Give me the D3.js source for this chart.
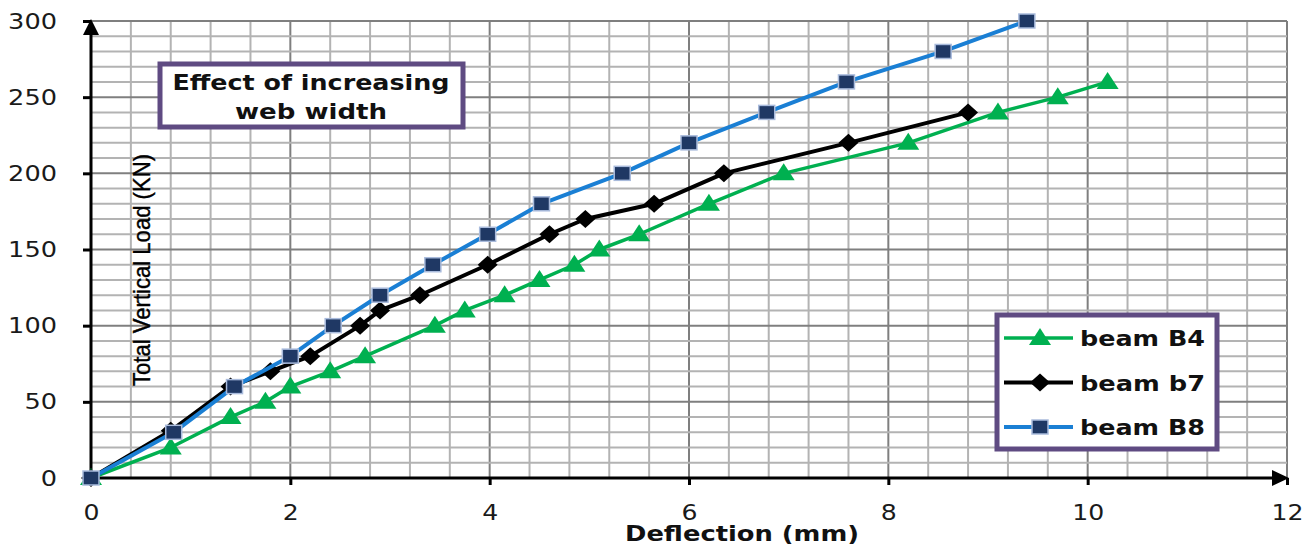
<!DOCTYPE html>
<html>
<head>
<meta charset="utf-8">
<script src="https://cdn.jsdelivr.net/npm/d3@7"></script>
<style>
  body { margin: 0; background: #fff; }
  svg { display: block; }
</style>
</head>
<body>
<svg id="chart" width="1316" height="545"></svg>
<script>
// deflection (mm) and load (kN)
const b4Defl = [0, 0.8, 1.4, 1.75, 2.0, 2.4, 2.75, 3.45, 3.75, 4.15, 4.5, 4.85, 5.1, 5.5, 6.2, 6.95, 8.2, 9.1, 9.7, 10.2];
const b4Load = [0, 20, 40, 50, 60, 70, 80, 100, 110, 120, 130, 140, 150, 160, 180, 200, 220, 240, 250, 260];

const b7Defl = [0, 0.8, 1.4, 1.8, 2.2, 2.7, 2.9, 3.3, 3.98, 4.6, 4.96, 5.65, 6.35, 7.6, 8.8];
const b7Load = [0, 31, 60, 70, 80, 100, 110, 120, 140, 160, 170, 180, 200, 220, 240];

const b8Defl = [0, 0.83, 1.44, 2.0, 2.43, 2.9, 3.43, 3.98, 4.52, 5.33, 6.0, 6.78, 7.58, 8.55, 9.39];
const b8Load = [0, 30, 60, 80, 100, 120, 140, 160, 180, 200, 220, 240, 260, 280, 300];

const xTicks = [0, 2, 4, 6, 8, 10, 12];
const yTicks = [0, 50, 100, 150, 200, 250, 300];
const seriesNames = ['beam B4', 'beam b7', 'beam B8'];
const titleLines = ['Effect of increasing', 'web width'];

const svg = d3.select('#chart');
const x = d3.scaleLinear().domain([0, 12]).range([91, 1287]);
const y = d3.scaleLinear().domain([0, 300]).range([478, 21]);

// grid: minor every 0.4 mm / 10 kN, major on the ticks
const grid = svg.append('g');
d3.range(0, 12.001, 0.4).forEach(v => {
    const major = Math.abs(v / 2 - Math.round(v / 2)) < 1e-6;
    grid.append('line')
        .attr('x1', x(v)).attr('x2', x(v)).attr('y1', y(0)).attr('y2', y(300))
        .attr('stroke', major ? '#7f7f7f' : '#b3b3b3').attr('stroke-width', 2);
});
d3.range(0, 301, 10).forEach(v => {
    const major = v % 50 === 0;
    grid.append('line')
        .attr('x1', x(0)).attr('x2', x(12)).attr('y1', y(v)).attr('y2', y(v))
        .attr('stroke', major ? '#7f7f7f' : '#b3b3b3').attr('stroke-width', 2);
});

// axes
const xAxis = svg.append('g').attr('transform', `translate(0,${y(0)})`)
    .call(d3.axisBottom(x).tickValues(xTicks).tickSize(7).tickFormat(d3.format('d')));
xAxis.select('.domain').remove();
xAxis.selectAll('.tick line').attr('stroke', '#000').attr('stroke-width', 3);
xAxis.selectAll('.tick text')
    .attr('y', 26).attr('dy', '0.71em')
    .attr('font-family', 'DejaVu Sans').attr('font-size', 22).attr('fill', '#1a1a1a')
    .attr('textLength', d => String(d).length * 16).attr('lengthAdjust', 'spacingAndGlyphs');

const yAxis = svg.append('g').attr('transform', `translate(${x(0)},0)`)
    .call(d3.axisLeft(y).tickValues(yTicks).tickSize(8));
yAxis.select('.domain').remove();
yAxis.selectAll('.tick line').attr('stroke', '#000').attr('stroke-width', 3);
yAxis.selectAll('.tick text')
    .attr('x', -34)
    .attr('font-family', 'DejaVu Sans').attr('font-size', 22).attr('fill', '#1a1a1a')
    .attr('textLength', d => String(d).length * 16.3).attr('lengthAdjust', 'spacingAndGlyphs');

svg.append('line')
    .attr('x1', x(0)).attr('x2', x(0)).attr('y1', y(0)).attr('y2', y(300) + 8)
    .attr('stroke', '#000').attr('stroke-width', 3);
svg.append('path')
    .attr('d', `M${x(0)},${y(300) - 2} l-8,16 l16,0 z`).attr('fill', '#000');
svg.append('line')
    .attr('x1', x(0)).attr('x2', x(12) - 8).attr('y1', y(0)).attr('y2', y(0))
    .attr('stroke', '#000').attr('stroke-width', 3);
svg.append('path')
    .attr('d', `M${x(12) + 2},${y(0)} l-17,-8 l0,16 z`).attr('fill', '#000');

// axis titles
svg.append('text')
    .attr('x', 742).attr('y', 541).attr('text-anchor', 'middle')
    .attr('font-family', 'DejaVu Sans').attr('font-weight', 'bold').attr('font-size', 21)
    .attr('textLength', 234).attr('lengthAdjust', 'spacingAndGlyphs').attr('fill', '#111')
    .text('Deflection (mm)');

svg.append('text')
    .attr('transform', 'translate(150,270) rotate(-90)')
    .attr('text-anchor', 'middle')
    .attr('font-family', 'Liberation Sans Narrow, Liberation Sans, sans-serif').attr('font-size', 24)
    .attr('textLength', 232).attr('lengthAdjust', 'spacingAndGlyphs').attr('fill', '#000')
    .attr('stroke', '#000').attr('stroke-width', 0.4)
    .text('Total Vertical Load (KN)');

// series
const series = [
    {defl: b4Defl, load: b4Load, line: '#00b050', width: 3.5, mark: 'tri'},
    {defl: b7Defl, load: b7Load, line: '#000000', width: 4, mark: 'dia'},
    {defl: b8Defl, load: b8Load, line: '#1a7fd4', width: 4, mark: 'sq'}
];

function drawMarker(g, kind) {
    if (kind === 'tri') {
        g.append('path').attr('d', 'M0,-10 L11,7 L-11,7 Z').attr('fill', '#00b050');
    } else if (kind === 'dia') {
        g.append('path').attr('d', 'M0,-9 L10,0 L0,9 L-10,0 Z').attr('fill', '#000');
    } else {
        g.append('rect').attr('x', -8).attr('y', -7).attr('width', 16).attr('height', 14)
            .attr('fill', '#1f3864').attr('stroke', '#a9bbdc').attr('stroke-width', 1.5);
    }
}

const lineGen = d3.line().x(d => x(d[0])).y(d => y(d[1]));
series.forEach(s => {
    const pts = s.defl.map((d, i) => [d, s.load[i]]);
    svg.append('path').datum(pts).attr('d', lineGen)
        .attr('fill', 'none').attr('stroke', s.line).attr('stroke-width', s.width)
        .attr('stroke-linejoin', 'round');
    pts.forEach(p => {
        drawMarker(svg.append('g').attr('transform', `translate(${x(p[0])},${y(p[1])})`), s.mark);
    });
});

// title box
const purple = '#5f4b82';
svg.append('rect').attr('x', 160).attr('y', 64).attr('width', 303).attr('height', 63)
    .attr('fill', '#fff').attr('stroke', purple).attr('stroke-width', 5);
titleLines.forEach((t, i) => {
    svg.append('text')
        .attr('x', 311).attr('y', 90 + i * 29).attr('text-anchor', 'middle')
        .attr('font-family', 'DejaVu Sans').attr('font-weight', 'bold').attr('font-size', 22)
        .attr('textLength', i === 0 ? 277 : 152).attr('lengthAdjust', 'spacingAndGlyphs')
        .attr('fill', '#111')
        .text(t);
});

// legend
svg.append('rect').attr('x', 997).attr('y', 315).attr('width', 220).attr('height', 134)
    .attr('fill', '#fff').attr('stroke', purple).attr('stroke-width', 5);
seriesNames.forEach((name, i) => {
    const ly = 338 + i * 44.5;
    svg.append('line').attr('x1', 1004).attr('x2', 1073).attr('y1', ly).attr('y2', ly)
        .attr('stroke', series[i].line).attr('stroke-width', series[i].width);
    drawMarker(svg.append('g').attr('transform', `translate(1040,${ly})`), series[i].mark);
    svg.append('text')
        .attr('x', 1080).attr('y', ly + 8)
        .attr('font-family', 'DejaVu Sans').attr('font-weight', 'bold').attr('font-size', 22)
        .attr('textLength', 125).attr('lengthAdjust', 'spacingAndGlyphs')
        .attr('fill', '#111')
        .text(name);
});
</script>
</body>
</html>
